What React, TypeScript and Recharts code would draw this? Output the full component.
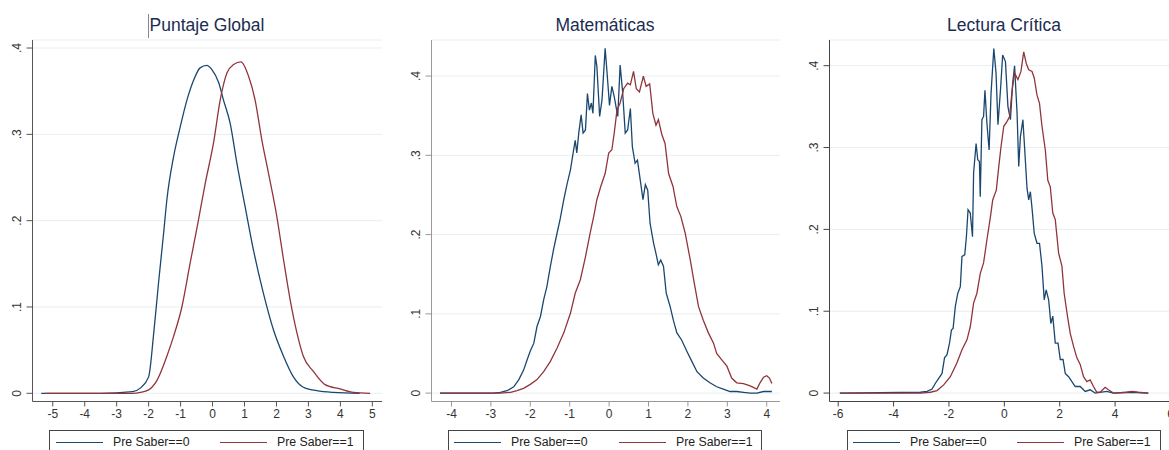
import { LineChart, Line, XAxis, YAxis, CartesianGrid } from 'recharts';

// colors used by the two groups
const BLUE = '#1a476f';
const RED = '#90353b';

const PANEL_TITLES = ['Puntaje Global', 'Matemáticas', 'Lectura Crítica'];
const SERIES_NAMES = ['Pre Saber==0', 'Pre Saber==1'];

const Y_TICKS = [0, 0.1, 0.2, 0.3, 0.4];
const GLOBAL_X_TICKS = [-5, -4, -3, -2, -1, 0, 1, 2, 3, 4, 5];
const MATE_X_TICKS = [-4, -3, -2, -1, 0, 1, 2, 3, 4];
const LECT_X_TICKS = [-6, -4, -2, 0, 2, 4, 6];

// Puntaje Global
const globalX0 = [-5.36, -3.5, -2.5, -2.26, -2.0, -1.84, -1.69, -1.53, -1.43, -1.22, -1.01, -0.8, -0.59, -0.39, -0.18, -0.02, 0.19, 0.34, 0.55, 0.76, 1.02, 1.28, 1.59, 1.91, 2.22, 2.53, 2.84, 3.26, 3.78, 4.6];
const globalY0 = [0, 0, 0.002, 0.006, 0.019, 0.07, 0.128, 0.186, 0.224, 0.274, 0.309, 0.34, 0.363, 0.377, 0.38, 0.375, 0.36, 0.34, 0.313, 0.267, 0.216, 0.166, 0.116, 0.073, 0.043, 0.019, 0.007, 0.003, 0.001, 0];
const globalX1 = [-5.23, -3.5, -2.5, -2.26, -2.0, -1.74, -1.43, -1.22, -0.96, -0.7, -0.44, -0.23, 0.03, 0.24, 0.45, 0.66, 0.89, 1.13, 1.33, 1.54, 1.75, 2.01, 2.22, 2.43, 2.64, 2.84, 3.16, 3.52, 3.99, 4.41, 4.93];
const globalY1 = [0, 0, 0, 0.001, 0.004, 0.015, 0.043, 0.066, 0.1, 0.151, 0.201, 0.243, 0.29, 0.34, 0.371, 0.381, 0.384, 0.367, 0.34, 0.294, 0.255, 0.205, 0.155, 0.108, 0.07, 0.043, 0.025, 0.01, 0.005, 0.001, 0];

// Matemáticas
const mateX0 = [-4.29, -2.93, -2.76, -2.59, -2.42, -2.29, -2.17, -2.08, -2.0, -1.91, -1.83, -1.74, -1.66, -1.58, -1.49, -1.41, -1.32, -1.24, -1.15, -1.07, -0.98, -0.9, -0.86, -0.82, -0.77, -0.71, -0.66, -0.6, -0.55, -0.5, -0.45, -0.41, -0.35, -0.31, -0.24, -0.18, -0.1, -0.05, 0.01, 0.07, 0.13, 0.22, 0.28, 0.34, 0.41, 0.47, 0.54, 0.59, 0.66, 0.72, 0.79, 0.86, 0.92, 0.98, 1.04, 1.13, 1.19, 1.25, 1.31, 1.38, 1.45, 1.55, 1.63, 1.72, 1.84, 1.97, 2.1, 2.23, 2.39, 2.56, 2.73, 2.9, 3.07, 3.24, 3.41, 3.58, 3.75, 3.92, 4.13];
const mateY0 = [0, 0, 0.001, 0.003, 0.008, 0.017, 0.029, 0.042, 0.053, 0.063, 0.084, 0.097, 0.118, 0.134, 0.16, 0.181, 0.202, 0.22, 0.244, 0.263, 0.282, 0.307, 0.319, 0.303, 0.328, 0.351, 0.328, 0.332, 0.378, 0.357, 0.366, 0.353, 0.426, 0.412, 0.349, 0.37, 0.435, 0.403, 0.363, 0.387, 0.374, 0.349, 0.414, 0.382, 0.328, 0.332, 0.359, 0.311, 0.29, 0.294, 0.269, 0.244, 0.263, 0.256, 0.214, 0.189, 0.176, 0.162, 0.168, 0.16, 0.126, 0.109, 0.092, 0.076, 0.067, 0.053, 0.04, 0.027, 0.019, 0.013, 0.008, 0.005, 0.002, 0.002, 0.001, 0, 0, 0.002, 0.002];
const mateX1 = [-4.29, -2.76, -2.5, -2.34, -2.17, -2.0, -1.83, -1.66, -1.49, -1.32, -1.15, -0.98, -0.86, -0.73, -0.6, -0.48, -0.39, -0.31, -0.21, -0.1, -0.01, 0.07, 0.13, 0.2, 0.28, 0.37, 0.47, 0.54, 0.62, 0.69, 0.77, 0.87, 0.94, 1.03, 1.11, 1.19, 1.25, 1.34, 1.42, 1.51, 1.62, 1.72, 1.82, 1.93, 2.06, 2.16, 2.27, 2.39, 2.52, 2.65, 2.73, 2.86, 2.99, 3.11, 3.24, 3.41, 3.58, 3.75, 3.83, 3.92, 4.0, 4.07, 4.13];
const mateY1 = [0, 0, 0.001, 0.003, 0.006, 0.011, 0.017, 0.027, 0.04, 0.057, 0.076, 0.101, 0.126, 0.143, 0.172, 0.202, 0.223, 0.244, 0.261, 0.277, 0.303, 0.307, 0.328, 0.357, 0.366, 0.384, 0.391, 0.389, 0.406, 0.384, 0.38, 0.4, 0.387, 0.39, 0.353, 0.338, 0.345, 0.326, 0.315, 0.277, 0.261, 0.235, 0.223, 0.202, 0.168, 0.139, 0.109, 0.092, 0.076, 0.063, 0.05, 0.042, 0.034, 0.019, 0.013, 0.012, 0.009, 0.005, 0.013, 0.02, 0.022, 0.019, 0.012];

// Lectura Crítica
const lectX0 = [-5.94, -3.03, -2.79, -2.61, -2.49, -2.37, -2.25, -2.16, -2.07, -1.98, -1.91, -1.85, -1.77, -1.68, -1.59, -1.53, -1.43, -1.37, -1.31, -1.23, -1.15, -1.11, -1.02, -0.96, -0.9, -0.87, -0.81, -0.75, -0.7, -0.63, -0.55, -0.48, -0.38, -0.3, -0.23, -0.14, -0.06, 0.04, 0.13, 0.22, 0.3, 0.37, 0.46, 0.52, 0.58, 0.67, 0.73, 0.82, 0.88, 0.94, 1.0, 1.08, 1.18, 1.27, 1.36, 1.44, 1.51, 1.6, 1.68, 1.75, 1.84, 1.94, 2.02, 2.12, 2.2, 2.32, 2.44, 2.56, 2.74, 2.92, 3.1, 3.28, 3.7, 3.94, 4.54, 5.2];
const lectY0 = [0, 0.001, 0.002, 0.005, 0.012, 0.018, 0.024, 0.043, 0.047, 0.061, 0.077, 0.079, 0.106, 0.122, 0.13, 0.167, 0.169, 0.191, 0.224, 0.22, 0.191, 0.269, 0.305, 0.285, 0.283, 0.24, 0.334, 0.338, 0.37, 0.33, 0.297, 0.366, 0.421, 0.391, 0.328, 0.37, 0.413, 0.405, 0.35, 0.334, 0.378, 0.4, 0.342, 0.277, 0.313, 0.334, 0.301, 0.25, 0.236, 0.246, 0.226, 0.195, 0.183, 0.183, 0.155, 0.114, 0.126, 0.114, 0.085, 0.094, 0.061, 0.061, 0.041, 0.041, 0.024, 0.02, 0.014, 0.008, 0.008, 0.002, 0.004, 0, 0.002, 0, 0.001, 0];
const lectX1 = [-5.94, -3.03, -2.67, -2.43, -2.19, -1.95, -1.71, -1.53, -1.35, -1.23, -1.11, -0.99, -0.87, -0.75, -0.63, -0.5, -0.42, -0.29, -0.2, -0.12, -0.02, 0.1, 0.19, 0.28, 0.37, 0.49, 0.6, 0.7, 0.79, 0.88, 1.0, 1.08, 1.18, 1.27, 1.36, 1.48, 1.57, 1.66, 1.75, 1.84, 1.96, 2.08, 2.16, 2.28, 2.38, 2.5, 2.62, 2.74, 2.86, 2.98, 3.1, 3.22, 3.34, 3.46, 3.64, 3.76, 3.94, 4.42, 4.6, 4.84, 5.2];
const lectY1 = [0, 0, 0.001, 0.003, 0.01, 0.02, 0.037, 0.053, 0.065, 0.081, 0.11, 0.122, 0.146, 0.159, 0.187, 0.216, 0.236, 0.248, 0.277, 0.301, 0.326, 0.332, 0.338, 0.37, 0.391, 0.383, 0.393, 0.417, 0.403, 0.395, 0.393, 0.385, 0.364, 0.354, 0.326, 0.297, 0.26, 0.252, 0.22, 0.212, 0.171, 0.155, 0.122, 0.094, 0.073, 0.057, 0.043, 0.035, 0.02, 0.014, 0.016, 0.008, 0.001, 0.001, 0.007, 0.004, 0, 0.001, 0.002, 0.001, 0];

const pts = (xs: number[], ys: number[]) => xs.map((x, i) => ({ x, y: ys[i] }));

const FONT = '"Liberation Sans", Arial, sans-serif';
const Y_AXIS_W = 30;
const X_AXIS_H = 30;
const PLOT_TOP = 40;
const PLOT_BOTTOM = 401.5;

const fmtY = (v: number) => (v === 0 ? '0' : String(v).replace(/^0/, ''));

function RotatedTick(props: any) {
  const { x, y, payload } = props;
  // baseline about 11.5px left of the axis line
  const bx = x + 8 - 11.5;
  return (
    <text
      x={bx}
      y={y}
      transform={`rotate(-90, ${bx}, ${y})`}
      textAnchor="middle"
      fontSize={12}
      fill="#333"
      fontFamily={FONT}
    >
      {fmtY(payload.value)}
    </text>
  );
}

interface PanelProps {
  left: number;
  width: number;
  plotLeft: number;
  plotRight: number;
  xDomain: [number, number];
  yDomain: [number, number];
  xTicks: number[];
  axisColor: string;
  title: string;
  titleX: number;
  data0: { x: number; y: number }[];
  data1: { x: number; y: number }[];
  curve: 'monotone' | 'linear';
  legendLeft: number;
  legendWidth: number;
  legendItems: number[];
}

function Panel(p: PanelProps) {
  return (
    <>
      <div
        style={{
          position: 'absolute',
          left: p.titleX - 100,
          width: 200,
          top: 14,
          textAlign: 'center',
          fontFamily: FONT,
          fontSize: 17.5,
          color: '#1c2c52',
          lineHeight: '22px',
        }}
      >
        {p.title}
      </div>
      <div style={{ position: 'absolute', left: p.left, top: 0 }}>
        <LineChart
          width={p.width}
          height={450}
          margin={{
            top: PLOT_TOP,
            right: p.width - p.plotRight,
            left: p.plotLeft - Y_AXIS_W,
            bottom: 450 - PLOT_BOTTOM - X_AXIS_H,
          }}
        >
          <CartesianGrid vertical={false} stroke="#e7eff1" />
          <XAxis
            type="number"
            dataKey="x"
            domain={p.xDomain}
            ticks={p.xTicks}
            allowDataOverflow
            height={X_AXIS_H}
            tickSize={5}
            tickMargin={3}
            stroke={p.axisColor}
            tick={{ fontSize: 12, fill: '#333', fontFamily: FONT }}
            interval={0}
          />
          <YAxis
            type="number"
            domain={p.yDomain}
            ticks={Y_TICKS}
            allowDataOverflow
            width={Y_AXIS_W}
            tickSize={6}
            tickMargin={2}
            stroke={p.axisColor}
            tick={<RotatedTick />}
            interval={0}
          />
          <Line
            data={p.data0}
            dataKey="y"
            name={SERIES_NAMES[0]}
            type={p.curve}
            stroke={BLUE}
            strokeWidth={1.3}
            dot={false}
            isAnimationActive={false}
          />
          <Line
            data={p.data1}
            dataKey="y"
            name={SERIES_NAMES[1]}
            type={p.curve}
            stroke={RED}
            strokeWidth={1.3}
            dot={false}
            isAnimationActive={false}
          />
        </LineChart>
      </div>
      <div
        style={{
          position: 'absolute',
          left: p.legendLeft,
          top: 430,
          width: p.legendWidth,
          height: 40,
          border: '1px solid #444',
          boxSizing: 'border-box',
          fontFamily: FONT,
          fontSize: 12.3,
          color: '#222',
        }}
      >
        {SERIES_NAMES.map((name, i) => (
          <div key={name}>
            <div
              style={{
                position: 'absolute',
                left: p.legendItems[i] - p.legendLeft,
                top: 10.5,
                width: 47,
                height: 1.6,
                background: i === 0 ? BLUE : RED,
              }}
            />
            <div
              style={{
                position: 'absolute',
                left: p.legendItems[i] - p.legendLeft + 57,
                top: 4,
                whiteSpace: 'nowrap',
                lineHeight: '14px',
              }}
            >
              {name}
            </div>
          </div>
        ))}
      </div>
    </>
  );
}

export default function App() {
  return (
    <div
      style={{
        position: 'absolute',
        left: 0,
        top: 0,
        width: 1169,
        height: 450,
        overflow: 'hidden',
        background: '#fff',
      }}
    >
      <Panel
        left={0}
        width={390}
        plotLeft={32.5}
        plotRight={382}
        xDomain={[-5.634, 5.302]}
        yDomain={[-0.0095, 0.4093]}
        xTicks={GLOBAL_X_TICKS}
        axisColor="#555"
        title={PANEL_TITLES[0]}
        titleX={207}
        data0={pts(globalX0, globalY0)}
        data1={pts(globalX1, globalY1)}
        curve="monotone"
        legendLeft={49}
        legendWidth={315}
        legendItems={[55, 219]}
      />
      <Panel
        left={390}
        width={390}
        plotLeft={41.5}
        plotRight={390}
        xDomain={[-4.507, 4.337]}
        yDomain={[-0.0106, 0.4455]}
        xTicks={MATE_X_TICKS}
        axisColor="#999"
        title={PANEL_TITLES[1]}
        titleX={605}
        data0={pts(mateX0, mateY0)}
        data1={pts(mateX1, mateY1)}
        curve="linear"
        legendLeft={448}
        legendWidth={314}
        legendItems={[453, 618]}
      />
      <Panel
        left={780}
        width={400}
        plotLeft={49.5}
        plotRight={400}
        xDomain={[-6.314, 6.344]}
        yDomain={[-0.0103, 0.4314]}
        xTicks={LECT_X_TICKS}
        axisColor="#444"
        title={PANEL_TITLES[2]}
        titleX={1004}
        data0={pts(lectX0, lectY0)}
        data1={pts(lectX1, lectY1)}
        curve="linear"
        legendLeft={847}
        legendWidth={314}
        legendItems={[852, 1016]}
      />
      {/* thin cursor mark left of the first title */}
      <div style={{ position: 'absolute', left: 148, top: 14, width: 1, height: 24, background: '#888' }} />
    </div>
  );
}
